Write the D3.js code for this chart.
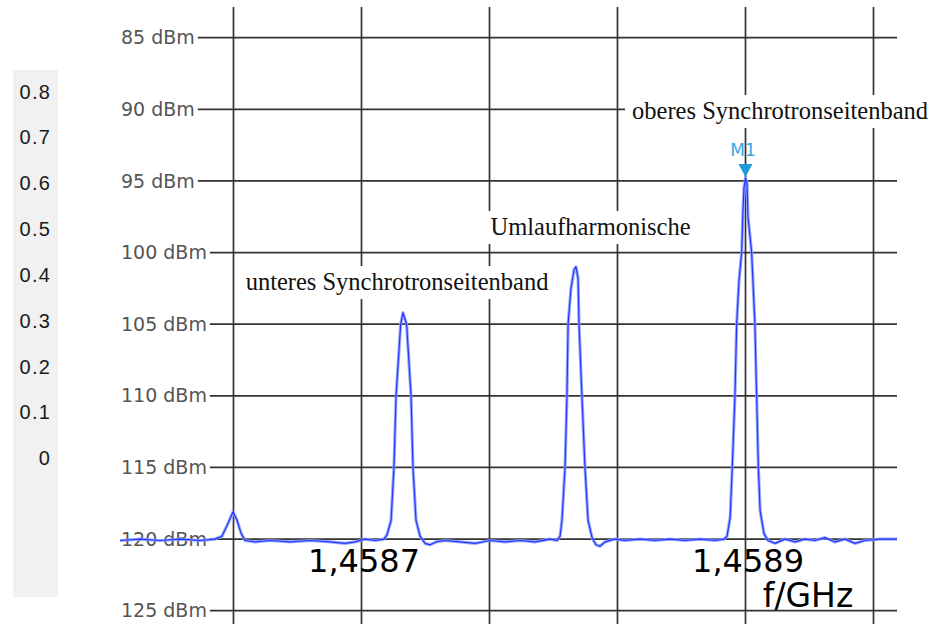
<!DOCTYPE html>
<html>
<head>
<meta charset="utf-8">
<script src="https://cdn.jsdelivr.net/npm/d3@7/dist/d3.min.js"></script>
<style>
  html, body { margin: 0; padding: 0; background: #fff; }
  svg { display: block; }
</style>
</head>
<body>
<svg id="chart" width="946" height="624"></svg>
<script>
// Spectrum around the 1.4587–1.4589 GHz revolution harmonic
const centerGHz = 1.4587;              // frequency of offset 0
const levelTicks = [85, 90, 95, 100, 105, 110, 115, 120, 125];
const freqGridKHz = [-66.67, 0, 66.67, 133.33, 200, 266.67];
const freqTickKHz = [0, 200];
const freqTickLabels = ["1,4587", "1,4589"];
const sideTicks = [0, 0.1, 0.2, 0.3, 0.4, 0.5, 0.6, 0.7, 0.8];

// trace: frequency offset from centerGHz in kHz, level in dBm
const offsetKHz = [
  -125.8, -115.4, -104.9, -94.5, -84.1, -76.3, -72.7, -69.5, -66.9, -64.8,
  -62.7, -60.7, -55.5, -47.7, -37.2, -26.8, -16.4, -8.6, -3.4, 1.8,
  7.0, 11.7, 13.3, 15.4, 16.9, 18.0, 20.4, 21.6, 23.5, 25.8,
  26.8, 28.4, 30.5, 33.1, 35.7, 38.8, 43.5, 51.3, 59.1, 66.9,
  74.7, 82.6, 90.4, 98.2, 101.8, 103.4, 104.4, 106.0, 107.0, 107.6,
  109.1, 110.7, 111.7, 112.8, 113.3, 114.8, 116.4, 118.0, 120.1, 122.1,
  124.2, 126.8, 132.0, 137.2, 145.1, 152.9, 160.7, 168.5, 176.3, 184.1,
  188.8, 190.4, 192.0, 193.1, 194.5, 195.4, 196.6, 198.0, 198.7, 199.2,
  200.0, 200.8, 201.3, 203.2, 204.9, 205.8, 206.7, 207.6, 209.6, 211.7,
  215.4, 220.6, 225.8, 231.0, 236.2, 241.4, 246.6, 251.8, 257.0, 262.2,
  270.0, 278.9
];
const levelDBm = [
  120.1, 120.0, 120.1, 120.0, 120.1, 120.0, 119.8, 118.9, 118.1, 118.7,
  119.6, 120.1, 120.2, 120.1, 120.2, 120.1, 120.2, 120.3, 120.2, 120.0,
  120.1, 120.0, 119.7, 118.7, 115.0, 110.0, 105.0, 104.2, 105.0, 110.0,
  115.0, 118.7, 119.8, 120.3, 120.4, 120.2, 120.1, 120.2, 120.3, 120.1,
  120.2, 120.1, 120.2, 120.0, 120.1, 119.8, 118.7, 115.0, 110.0, 105.0,
  102.5, 101.2, 101.0, 101.8, 105.0, 110.0, 115.0, 118.7, 119.9, 120.4,
  120.5, 120.2, 120.0, 120.1, 120.0, 120.1, 120.0, 120.1, 120.0, 120.1,
  120.0, 119.8, 118.5, 115.0, 110.0, 105.0, 102.0, 100.0, 97.0, 95.5,
  94.8, 95.2, 97.5, 100.0, 105.0, 110.0, 115.0, 118.0, 119.6, 120.1,
  120.3, 120.0, 120.2, 120.0, 120.1, 119.9, 120.2, 120.0, 120.3, 120.1,
  120.0, 120.0
];

const annotations = [
  { text: "unteres Synchrotronseitenband", f: 18.5, y: 290 },
  { text: "Umlaufharmonische", f: 119.3, y: 235 },
  { text: "oberes Synchrotronseitenband", f: 218.0, y: 119 }
];

const svg = d3.select("#chart");

const x = d3.scaleLinear().domain([0, 200]).range([361.5, 745.5]);
const y = d3.scaleLinear().domain([85, 125]).range([37.7, 610.7]);

// side panel with its own scale
svg.append("rect").attr("x", 13).attr("y", 70).attr("width", 45).attr("height", 527)
  .attr("fill", "#f1f1f1");
const ySide = d3.scaleLinear().domain([0, 0.8]).range([458.3, 91.7]);
const sideAxis = svg.append("g").attr("transform", "translate(51,0)")
  .call(d3.axisLeft(ySide).tickValues(sideTicks).tickSize(0).tickPadding(0)
    .tickFormat(d3.format("~g")));
sideAxis.select(".domain").remove();
sideAxis.selectAll("text")
  .attr("font-family", "'Liberation Sans', Arial, sans-serif")
  .attr("font-size", 20).attr("letter-spacing", 1.2).attr("fill", "#1a1a1a");

// level labels and horizontal grid
const gridRight = 897;
const levelG = svg.append("g");
levelTicks.forEach(v => {
  const t = levelG.append("text")
    .attr("x", 121).attr("y", y(v)).attr("dy", "0.35em")
    .attr("font-family", "'DejaVu Sans', Verdana, sans-serif")
    .attr("font-size", 19).attr("fill", "#555")
    .text(v + " dBm");
  const w = t.node().getComputedTextLength();
  levelG.insert("line", "text")
    .attr("x1", 121 + w + 3).attr("x2", gridRight)
    .attr("y1", y(v)).attr("y2", y(v))
    .attr("stroke", "#333").attr("stroke-width", 1.7);
});

// vertical grid
svg.append("g").selectAll("line").data(freqGridKHz).join("line")
  .attr("x1", d => x(d)).attr("x2", d => x(d))
  .attr("y1", 7).attr("y2", 624)
  .attr("stroke", "#333").attr("stroke-width", 1.7);

// annotation boxes hide the grid behind the text
const annG = svg.append("g");
annotations.forEach(a => {
  const t = annG.append("text")
    .attr("x", x(a.f)).attr("y", a.y).attr("text-anchor", "middle")
    .attr("font-family", "'Liberation Serif', 'Times New Roman', serif")
    .attr("font-size", 24.5).attr("fill", "#111")
    .text(a.text);
  const b = t.node().getBBox();
  annG.insert("rect", "text")
    .attr("x", b.x - 7).attr("y", b.y - 2)
    .attr("width", b.width + 14).attr("height", b.height + 6)
    .attr("fill", "#fff");
});

// frequency tick labels
const fmtLabel = d => freqTickLabels[freqTickKHz.indexOf(d)];
const xAxis = svg.append("g").attr("transform", "translate(2,549)")
  .call(d3.axisBottom(x).tickValues(freqTickKHz).tickSize(0).tickPadding(0)
    .tickFormat(fmtLabel));
xAxis.select(".domain").remove();
xAxis.selectAll("text")
  .attr("font-family", "'DejaVu Sans', Verdana, sans-serif")
  .attr("font-size", 32).attr("fill", "#000");
svg.append("text").attr("x", 808).attr("y", 607).attr("text-anchor", "middle")
  .attr("font-family", "'DejaVu Sans', Verdana, sans-serif")
  .attr("font-size", 33).attr("fill", "#000").text("f/GHz");

// trace
const pts = offsetKHz.map((f, i) => [f, levelDBm[i]]);
const line = d3.line().x(d => x(d[0])).y(d => y(d[1]));
svg.append("path").datum(pts).attr("d", line)
  .attr("fill", "none").attr("stroke", "#8c9eff").attr("stroke-width", 3.2)
  .attr("stroke-linejoin", "round").attr("opacity", 0.85);
svg.append("path").datum(pts).attr("d", line)
  .attr("fill", "none").attr("stroke", "#2436ff").attr("stroke-width", 1.2)
  .attr("stroke-linejoin", "round");

// marker M1 on the strongest point
const iMax = d3.minIndex(levelDBm);
const mx = x(offsetKHz[iMax]), my = y(levelDBm[iMax]);
svg.append("path")
  .attr("d", `M${mx - 7},${my - 14} L${mx + 7},${my - 14} L${mx},${my - 1} Z`)
  .attr("fill", "#1f9ad8");
svg.append("text").attr("x", mx - 2.5).attr("y", my - 22).attr("text-anchor", "middle")
  .attr("font-family", "'DejaVu Sans', Verdana, sans-serif")
  .attr("font-size", 17).attr("fill", "#36a6e0").text("M1");
</script>
</body>
</html>
